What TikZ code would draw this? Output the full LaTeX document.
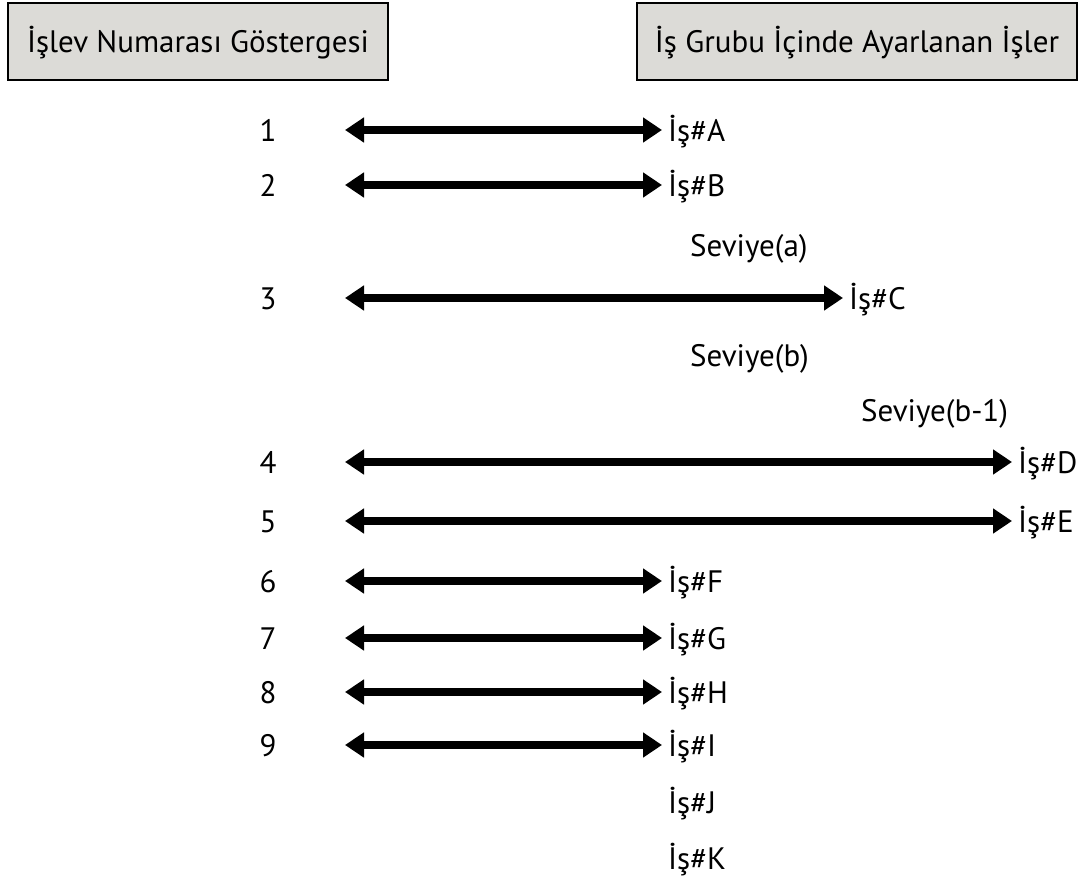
\documentclass[tikz,border=0pt]{standalone}
\usepackage{fontspec}
\setmainfont{PT Sans}
\usetikzlibrary{arrows.meta}
\definecolor{hdrgray}{HTML}{DCDBD7}
\tikzset{
    header/.style={draw=black,line width=1.6pt,fill=hdrgray,minimum height=77pt,inner sep=0pt,
        text height=22pt,text depth=0pt,font=\fontsize{31}{36}\selectfont},
    lbl/.style={inner sep=0pt,text height=22pt,text depth=0pt,font=\fontsize{31}{36}\selectfont},
    link/.style={line width=7.5pt,{Triangle[length=19pt,width=24pt]}-{Triangle[length=19pt,width=24pt]},shorten >=6pt},
}
\begin{document}
\begin{tikzpicture}[x=1pt,y=-1pt]
    \useasboundingbox (0,0) rectangle (1083,888);
    \node[header,minimum width=380pt] (hdrnum) at (198,41.5) {İşlev Numarası Göstergesi};
    \node[header,minimum width=440pt] (hdrjob) at (857,41.5) {İş Grubu İçinde Ayarlanan İşler};
    % numbered rows with links
    \foreach \n/\y/\x/\j in {1/130/668/A,2/185/668/B,3/298/849/C,4/462/1018/D,5/521/1018/E,
                             6/581/668/F,7/638/668/G,8/692/668/H,9/745/668/I}{
        \node[lbl] (n\n) at (268,\y) {\n};
        \node[lbl,anchor=west] (j\n) at (\x,\y) {İş\#\j};
        \coordinate (s\n) at (345,\y);
        \draw[link] (s\n) -- (j\n.west);
    }
    \node[lbl,anchor=west] (j10) at (668,802) {İş\#J};
    \node[lbl,anchor=west] (j11) at (668,858) {İş\#K};
    % levels
    \node[lbl,anchor=west] (lva) at (690,245) {Seviye(a)};
    \node[lbl,anchor=west] (lvb) at (690,355) {Seviye(b)};
    \node[lbl,anchor=west] (lvb1) at (861,410) {Seviye(b-1)};
\end{tikzpicture}
\end{document}
